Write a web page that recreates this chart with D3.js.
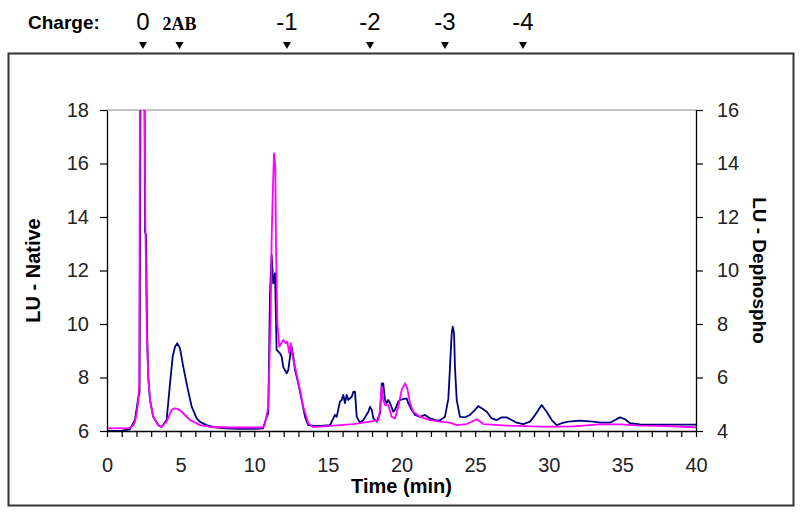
<!DOCTYPE html>
<html>
<head>
<meta charset="utf-8">
<script src="https://cdn.jsdelivr.net/npm/d3@7"></script>
<style>
	html, body { margin: 0; background: #fff; }
	svg { display: block; font-family: Arial, 'Liberation Sans', sans-serif; }
</style>
</head>
<body>
<svg id="chart" width="800" height="517"></svg>
<script>
// [time (min), LU], native sample on the left axis
const nativeTrace = [
	[0, 6.0], [0.9, 6.0], [1.55, 6.06], [1.9, 6.41], [2.13, 7.28], [2.21, 7.42], [2.28, 19.5], [2.54, 19.5],
	[2.58, 13.44], [2.65, 13.33], [2.72, 9.78], [2.8, 8.03], [2.92, 7.16], [3.14, 6.53], [3.48, 6.22], [3.71, 6.15],
	[4.05, 6.41], [4.28, 7.78], [4.46, 8.78], [4.62, 9.15], [4.77, 9.28], [4.96, 9.09], [5.18, 8.4], [5.45, 7.66],
	[5.75, 6.91], [6.09, 6.47], [6.32, 6.34], [6.77, 6.22], [7.2, 6.15], [8, 6.1], [9, 6.08], [10, 6.08],
	[10.6, 6.1], [10.85, 6.53], [10.95, 6.66], [11.07, 11.15], [11.18, 12.58], [11.29, 11.52], [11.41, 11.9], [11.52, 9.03],
	[11.75, 8.9], [11.86, 8.78], [11.97, 8.4], [12.2, 8.16], [12.31, 8.28], [12.43, 8.78], [12.54, 9.15], [12.65, 8.78],
	[12.77, 8.28], [12.99, 7.78], [13.22, 7.16], [13.45, 6.53], [13.67, 6.22], [14.01, 6.19], [14.47, 6.19], [15.14, 6.22],
	[15.37, 6.47], [15.48, 6.6], [15.6, 6.53], [15.82, 7.1], [15.94, 7.16], [16.05, 7.35], [16.16, 7.04], [16.28, 7.35],
	[16.39, 7.16], [16.62, 7.28], [16.73, 7.47], [16.84, 7.47], [16.96, 6.53], [17.18, 6.31], [17.41, 6.41], [17.75, 6.72],
	[17.86, 6.91], [17.98, 6.79], [18.09, 6.47], [18.32, 6.35], [18.54, 6.66], [18.66, 7.78], [18.76, 7.78], [18.88, 7.16],
	[18.99, 7.04], [19.1, 7.16], [19.22, 7.04], [19.44, 6.72], [19.56, 6.79], [19.78, 7.1], [19.9, 7.16], [20.12, 7.19],
	[20.35, 7.22], [20.46, 7.04], [20.69, 6.79], [20.92, 6.6], [21.26, 6.53], [21.6, 6.6], [21.94, 6.47], [22.28, 6.41],
	[22.61, 6.39], [22.95, 6.53], [23.18, 7.2], [23.29, 8.35], [23.41, 9.65], [23.48, 9.9], [23.57, 9.65], [23.63, 8.4],
	[23.75, 7.16], [23.97, 6.53], [24.31, 6.51], [24.65, 6.6], [24.99, 6.79], [25.21, 6.93], [25.45, 6.85], [25.79, 6.72],
	[26.13, 6.47], [26.47, 6.41], [26.8, 6.51], [27.14, 6.51], [27.48, 6.41], [27.82, 6.31], [28.27, 6.26], [28.73, 6.35],
	[29.07, 6.6], [29.52, 6.97], [29.86, 6.72], [30.2, 6.41], [30.54, 6.22], [30.88, 6.29], [31.33, 6.35], [32.12, 6.39],
	[33.03, 6.35], [33.48, 6.31], [34.16, 6.31], [34.5, 6.41], [34.84, 6.51], [35.18, 6.44], [35.52, 6.29], [36.2, 6.25],
	[37.55, 6.24], [38.91, 6.24], [40, 6.24],
]

// dephosphorylated sample, right axis
const dephosphoTrace = [
	[0, 4.1], [1.56, 4.12], [1.79, 4.22], [1.9, 4.35], [2.02, 4.66], [2.13, 5.16], [2.19, 5.79], [2.24, 18], [2.55, 18],
	[2.6, 12.0], [2.7, 7.78], [2.8, 6.03], [2.92, 5.16], [3.14, 4.53], [3.48, 4.22], [3.71, 4.16], [4.05, 4.35],
	[4.39, 4.79], [4.62, 4.85], [4.82, 4.82], [5.07, 4.72], [5.64, 4.41], [6.32, 4.22], [7.0, 4.15], [8.5, 4.13],
	[10.5, 4.13], [10.7, 4.2], [10.95, 4.9], [11.12, 8.4], [11.18, 11.14], [11.25, 12.76], [11.34, 14.38], [11.43, 13.88],
	[11.48, 10.77], [11.57, 8.03], [11.7, 7.15], [11.97, 7.4], [12.14, 7.28], [12.24, 7.34], [12.38, 6.9], [12.47, 7.28],
	[12.61, 6.78], [12.77, 6.4], [13.11, 5.53], [13.33, 4.91], [13.67, 4.29], [13.99, 4.15], [14.47, 4.16], [16.73, 4.26],
	[17.86, 4.35], [18.43, 4.41], [18.54, 4.79], [18.66, 5.66], [18.76, 5.16], [18.88, 4.97], [19.1, 4.97], [19.33, 4.53],
	[19.56, 4.47], [19.78, 4.91], [20.01, 5.53], [20.24, 5.78], [20.39, 5.6], [20.58, 5.04], [20.8, 4.72], [21.26, 4.53],
	[21.94, 4.41], [22.61, 4.35], [23.29, 4.31], [23.75, 4.22], [24.43, 4.26], [25.11, 4.44], [25.56, 4.26], [27.14, 4.2],
	[29.41, 4.16], [31.33, 4.16], [32.12, 4.19], [33.48, 4.25], [34.84, 4.25], [36.2, 4.2], [37.55, 4.19], [40, 4.14],
]

const chargeLabels = ['0', '2AB', '-1', '-2', '-3', '-4']
const chargeTimes = [2.44, 4.92, 12.22, 17.86, 22.95, 28.25]

const timeTicks = d3.range(0, 41, 1)
const nativeTicks = [6, 8, 10, 12, 14, 16, 18]
const dephosphoTicks = [4, 6, 8, 10, 12, 14, 16]

const svg = d3.select('#chart')

const x = d3.scaleLinear().domain([0, 40]).range([107, 696])
const yLeft = d3.scaleLinear().domain([6, 18]).range([431, 110])
const yRight = d3.scaleLinear().domain([4, 16]).range([431, 110])

// outer frame
svg.append('rect')
	.attr('x', 8.5).attr('y', 53.5)
	.attr('width', 785).attr('height', 452)
	.attr('fill', 'none').attr('stroke', '#333').attr('stroke-width', 2)

// top border of the plot area
svg.append('line')
	.attr('x1', x(0)).attr('x2', x(40))
	.attr('y1', yLeft(18)).attr('y2', yLeft(18))
	.attr('stroke', '#888').attr('stroke-width', 1)

svg.append('clipPath').attr('id', 'plot-clip')
	.append('rect')
	.attr('x', x(0)).attr('y', yLeft(18))
	.attr('width', x(40) - x(0)).attr('height', yLeft(6) - yLeft(18))

const plot = svg.append('g').attr('clip-path', 'url(#plot-clip)')

plot.append('path')
	.datum(nativeTrace)
	.attr('fill', 'none')
	.attr('stroke', '#000080')
	.attr('stroke-width', 1.8)
	.attr('stroke-linejoin', 'round')
	.attr('d', d3.line().x(d => x(d[0])).y(d => yLeft(d[1])))

plot.append('path')
	.datum(dephosphoTrace)
	.attr('fill', 'none')
	.attr('stroke', '#ff00ff')
	.attr('stroke-width', 1.8)
	.attr('stroke-linejoin', 'round')
	.attr('d', d3.line().x(d => x(d[0])).y(d => yRight(d[1])))

function styleAxis(g) {
	g.select('.domain').attr('stroke', '#000').attr('stroke-width', 1.3)
	g.selectAll('.tick line').attr('stroke', '#000').attr('stroke-width', 1.2)
	g.selectAll('.tick text').attr('fill', '#222').style('font-size', '20px')
}

svg.append('g')
	.attr('transform', `translate(0,${yLeft(6)})`)
	.call(d3.axisBottom(x).tickValues(timeTicks).tickSize(6).tickPadding(21).tickSizeOuter(0)
		.tickFormat(d => (d % 5 === 0 ? d : '')))
	.call(styleAxis)

svg.append('g')
	.attr('transform', `translate(${x(0)},0)`)
	.call(d3.axisLeft(yLeft).tickValues(nativeTicks).tickSize(7).tickPadding(11).tickSizeOuter(0))
	.call(styleAxis)

svg.append('g')
	.attr('transform', `translate(${x(40)},0)`)
	.call(d3.axisRight(yRight).tickValues(dephosphoTicks).tickSize(7).tickPadding(14).tickSizeOuter(0))
	.call(styleAxis)

// axis titles
svg.append('text')
	.attr('transform', `translate(40,${(yLeft(6) + yLeft(18)) / 2}) rotate(-90)`)
	.attr('text-anchor', 'middle')
	.attr('font-weight', 'bold').attr('font-size', 20)
	.text('LU - Native')

svg.append('text')
	.attr('transform', `translate(753,${(yLeft(6) + yLeft(18)) / 2}) rotate(90)`)
	.attr('text-anchor', 'middle')
	.attr('font-weight', 'bold').attr('font-size', 19)
	.text('LU - Dephospho')

svg.append('text')
	.attr('x', x(20)).attr('y', 493)
	.attr('text-anchor', 'middle')
	.attr('font-weight', 'bold').attr('font-size', 20)
	.text('Time (min)')

// charge markers along the top
svg.append('text')
	.attr('x', 28).attr('y', 29)
	.attr('font-weight', 'bold').attr('font-size', 19)
	.text('Charge:')

svg.selectAll('.charge-label')
	.data(chargeLabels)
	.join('text')
	.attr('class', 'charge-label')
	.attr('x', (d, i) => x(chargeTimes[i]))
	.attr('y', 30)
	.attr('text-anchor', 'middle')
	.attr('font-family', d => (d === '2AB' ? "'Liberation Serif', 'Times New Roman', serif" : null))
	.attr('font-weight', d => (d === '2AB' ? 'bold' : null))
	.attr('font-size', d => (d === '2AB' ? 18 : 24))
	.text(d => d)

svg.selectAll('.charge-mark')
	.data(chargeTimes)
	.join('path')
	.attr('class', 'charge-mark')
	.attr('d', d => `M${x(d) - 4},42 L${x(d) + 4},42 L${x(d)},49 Z`)
	.attr('fill', '#000')
</script>
</body>
</html>
